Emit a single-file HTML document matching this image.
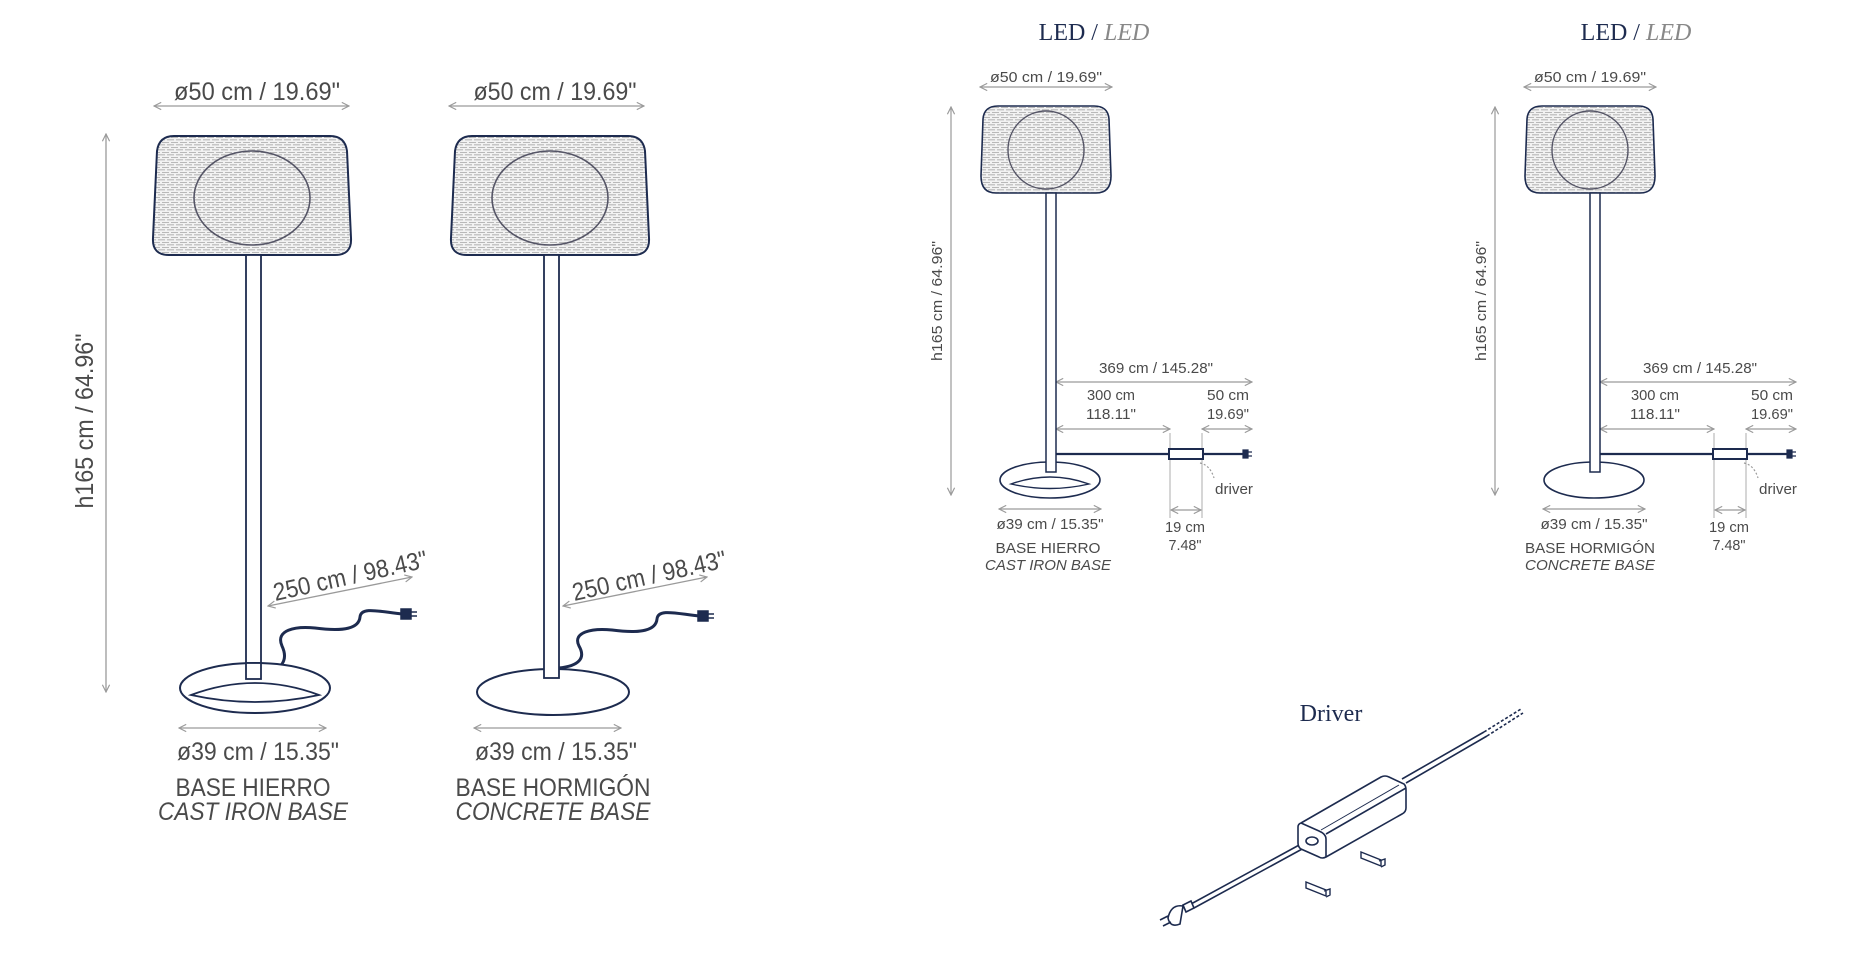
<!DOCTYPE html>
<html><head><meta charset="utf-8"><style>
html,body{margin:0;padding:0;background:#fff;}
svg{display:block;}
text{font-family:"Liberation Sans",sans-serif;fill:#4a4a4a;}
.s{font-family:"Liberation Serif",serif;fill:#1d2b4f;}
</style></head><body>
<svg width="1866" height="958" viewBox="0 0 1866 958" xmlns="http://www.w3.org/2000/svg">
<defs>
<pattern id="wv" width="9" height="5" patternUnits="userSpaceOnUse">
<rect width="9" height="5" fill="#f2f2f2"/>
<path d="M0,1.5 H7 M0,3.8 H3 M5,3.8 H9" stroke="#b8b8b8" stroke-width="1.1"/>
</pattern>
<marker id="a" viewBox="0 0 10 10" refX="9" refY="5" markerWidth="9" markerHeight="9" orient="auto-start-reverse" markerUnits="userSpaceOnUse"><path d="M1,1 L9,5 L1,9" fill="none" stroke="#9a9a9a" stroke-width="1.3"/></marker>
<g id="shadeL"><path d="M-78,0 L78,0 Q93,0 95,15 L99,102 Q100,119 83,119 L-83,119 Q-100,119 -99,102 L-95,15 Q-93,0 -78,0 Z" fill="url(#wv)" stroke="#1d2b4f" stroke-width="2"/>
<ellipse cx="0" cy="62" rx="58" ry="47" fill="none" stroke="#556" stroke-width="1.6"/></g>
<g id="shadeR"><path d="M-48,0 L48,0 Q62,0 63,13 L65,70 Q65,87 50,87 L-50,87 Q-65,87 -65,70 L-63,13 Q-62,0 -48,0 Z" fill="url(#wv)" stroke="#1d2b4f" stroke-width="1.6"/>
<ellipse cx="0" cy="44" rx="38" ry="39" fill="none" stroke="#556" stroke-width="1.4"/></g>
<g id="lampR">
<g stroke="#9a9a9a" stroke-width="1.2" fill="none">
<line x1="992" y1="87" x2="1124" y2="87" marker-start="url(#a)" marker-end="url(#a)"/>
<line x1="963" y1="107" x2="963" y2="495" marker-start="url(#a)" marker-end="url(#a)"/>
<line x1="1068" y1="382" x2="1264" y2="382" marker-start="url(#a)" marker-end="url(#a)"/>
<line x1="1068" y1="429" x2="1182" y2="429" marker-start="url(#a)" marker-end="url(#a)"/>
<line x1="1214" y1="429" x2="1264" y2="429" marker-start="url(#a)" marker-end="url(#a)"/>
<line x1="1183" y1="510" x2="1213" y2="510" marker-start="url(#a)" marker-end="url(#a)"/>
<line x1="1011" y1="509" x2="1113" y2="509" marker-start="url(#a)" marker-end="url(#a)"/>
<line x1="1182" y1="433" x2="1182" y2="518" stroke-width="0.8"/>
<line x1="1214" y1="433" x2="1214" y2="518" stroke-width="0.8"/>
<path d="M1212,463 Q1222,465 1226,478" stroke-dasharray="2,2"/>
</g>
<use href="#shadeR" x="1058" y="106"/>
<line x1="1068" y1="454" x2="1180" y2="454" stroke="#1d2b4f" stroke-width="2.2"/>
<line x1="1216" y1="454" x2="1256" y2="454" stroke="#1d2b4f" stroke-width="2.2"/>
<rect x="1181" y="449" width="34" height="10" fill="#fff" stroke="#1d2b4f" stroke-width="2"/>
<path d="M1255,450 h5 v8 h-5z M1260,452 h4 M1260,456 h4" fill="#1d2b4f" stroke="#1d2b4f" stroke-width="1.2"/>
<g font-size="15">
<text x="1058" y="82" text-anchor="middle" textLength="112" lengthAdjust="spacingAndGlyphs">ø50 cm / 19.69"</text>
<text x="1168" y="373" text-anchor="middle" textLength="114" lengthAdjust="spacingAndGlyphs">369 cm / 145.28"</text>
<text x="1123" y="400" text-anchor="middle" textLength="48" lengthAdjust="spacingAndGlyphs">300 cm</text>
<text x="1123" y="419" text-anchor="middle" textLength="50" lengthAdjust="spacingAndGlyphs">118.11"</text>
<text x="1240" y="400" text-anchor="middle" textLength="42" lengthAdjust="spacingAndGlyphs">50 cm</text>
<text x="1240" y="419" text-anchor="middle" textLength="42" lengthAdjust="spacingAndGlyphs">19.69"</text>
<text x="1246" y="494" text-anchor="middle" textLength="38" lengthAdjust="spacingAndGlyphs">driver</text>
<text x="1197" y="532" text-anchor="middle" textLength="40" lengthAdjust="spacingAndGlyphs">19 cm</text>
<text x="1197" y="550" text-anchor="middle" textLength="33" lengthAdjust="spacingAndGlyphs">7.48"</text>
<text x="1062" y="529" text-anchor="middle" textLength="107" lengthAdjust="spacingAndGlyphs">ø39 cm / 15.35"</text>
<text transform="translate(954,301) rotate(-90)" text-anchor="middle" textLength="120" lengthAdjust="spacingAndGlyphs">h165 cm / 64.96"</text>
</g>
</g>
</defs>

<g stroke="#9a9a9a" stroke-width="1.3" fill="none">
<line x1="154" y1="106" x2="349" y2="106" marker-start="url(#a)" marker-end="url(#a)"/>
<line x1="449" y1="106" x2="644" y2="106" marker-start="url(#a)" marker-end="url(#a)"/>
<line x1="106" y1="134" x2="106" y2="692" marker-start="url(#a)" marker-end="url(#a)"/>
<line x1="179" y1="728" x2="326" y2="728" marker-start="url(#a)" marker-end="url(#a)"/>
<line x1="474" y1="728" x2="621" y2="728" marker-start="url(#a)" marker-end="url(#a)"/>
<line x1="268" y1="606" x2="412" y2="577" marker-start="url(#a)" marker-end="url(#a)"/>
<line x1="563" y1="606" x2="707" y2="577" marker-start="url(#a)" marker-end="url(#a)"/>
</g>
<!-- lamp 1 -->
<use href="#shadeL" x="252" y="136"/>
<rect x="246" y="255" width="15" height="419" fill="#fff" stroke="#1d2b4f" stroke-width="1.8"/>
<path d="M261,674 C281,671 289,661 282,646 C275,630 295,626 315,628 C345,632 359,628 360,617 C361,606 381,612 403,614" fill="none" stroke="#1d2b4f" stroke-width="3"/>
<path d="M401,609 h10 v10 h-10z M411,612 h6 M411,616 h6" fill="#1d2b4f" stroke="#1d2b4f" stroke-width="1.5"/>
<ellipse cx="255" cy="688" rx="75" ry="25" fill="#fff" stroke="#1d2b4f" stroke-width="2"/>
<path d="M191,695 Q255,671 319,695 Q255,709 191,695 Z" fill="none" stroke="#1d2b4f" stroke-width="1.8"/>
<rect x="246" y="663" width="15" height="16" fill="#fff" stroke="#1d2b4f" stroke-width="1.8"/>
<!-- lamp 2 -->
<use href="#shadeL" x="550" y="136"/>
<ellipse cx="553" cy="692" rx="76" ry="23" fill="#fff" stroke="#1d2b4f" stroke-width="2"/>
<rect x="544" y="255" width="15" height="423" fill="#fff" stroke="#1d2b4f" stroke-width="1.8"/>
<path d="M559,668 C579,666 586,658 579,646 C572,632 592,628 612,630 C642,634 656,630 657,619 C658,608 678,614 700,616" fill="none" stroke="#1d2b4f" stroke-width="3"/>
<path d="M698,611 h10 v10 h-10z M708,614 h6 M708,618 h6" fill="#1d2b4f" stroke="#1d2b4f" stroke-width="1.5"/>

<g font-size="25">
<text x="257" y="100" text-anchor="middle" textLength="166" lengthAdjust="spacingAndGlyphs">ø50 cm / 19.69"</text>
<text x="555" y="100" text-anchor="middle" textLength="163" lengthAdjust="spacingAndGlyphs">ø50 cm / 19.69"</text>
<text x="258" y="770" text-anchor="middle" textLength="162" lengthAdjust="spacingAndGlyphs" dy="-10">ø39 cm / 15.35"</text>
<text x="556" y="760" text-anchor="middle" textLength="162" lengthAdjust="spacingAndGlyphs">ø39 cm / 15.35"</text>
<text x="253" y="796" text-anchor="middle" textLength="155" lengthAdjust="spacingAndGlyphs">BASE HIERRO</text>
<text x="253" y="820" text-anchor="middle" font-style="italic" textLength="190" lengthAdjust="spacingAndGlyphs">CAST IRON BASE</text>
<text x="553" y="796" text-anchor="middle" textLength="195" lengthAdjust="spacingAndGlyphs">BASE HORMIGÓN</text>
<text x="553" y="820" text-anchor="middle" font-style="italic" textLength="195" lengthAdjust="spacingAndGlyphs">CONCRETE BASE</text>
<text transform="translate(93,421) rotate(-90)" text-anchor="middle" textLength="175" lengthAdjust="spacingAndGlyphs">h165 cm / 64.96"</text>
<text transform="translate(352,584) rotate(-12.5)" text-anchor="middle" textLength="157" lengthAdjust="spacingAndGlyphs">250 cm / 98.43"</text>
<text transform="translate(651,584) rotate(-12.5)" text-anchor="middle" textLength="157" lengthAdjust="spacingAndGlyphs">250 cm / 98.43"</text>
</g>

<!-- right lamps -->
<text class="s" x="1094" y="40" font-size="24" text-anchor="middle">LED / <tspan font-style="italic" fill="#888">LED</tspan></text>
<text class="s" x="1636" y="40" font-size="24" text-anchor="middle">LED / <tspan font-style="italic" fill="#888">LED</tspan></text>

<g transform="translate(-12,0)">
<use href="#lampR"/>
<ellipse cx="1062" cy="480" rx="50" ry="18" fill="#fff" stroke="#1d2b4f" stroke-width="1.6"/>
<path d="M1023,484 Q1062,470 1101,484 Q1062,493 1023,484 Z" fill="none" stroke="#1d2b4f" stroke-width="1.4"/>
<rect x="1058" y="193" width="10" height="279" fill="#fff" stroke="#1d2b4f" stroke-width="1.5"/>
<g font-size="15">
<text x="1060" y="553" text-anchor="middle" textLength="105" lengthAdjust="spacingAndGlyphs">BASE HIERRO</text>
<text x="1060" y="570" text-anchor="middle" font-style="italic" textLength="126" lengthAdjust="spacingAndGlyphs">CAST IRON BASE</text>
</g>
</g>
<g transform="translate(532,0)">
<use href="#lampR"/>
<ellipse cx="1062" cy="480" rx="50" ry="18" fill="#fff" stroke="#1d2b4f" stroke-width="1.6"/>
<rect x="1058" y="193" width="10" height="279" fill="#fff" stroke="#1d2b4f" stroke-width="1.5"/>
<g font-size="15">
<text x="1058" y="553" text-anchor="middle" textLength="130" lengthAdjust="spacingAndGlyphs">BASE HORMIGÓN</text>
<text x="1058" y="570" text-anchor="middle" font-style="italic" textLength="130" lengthAdjust="spacingAndGlyphs">CONCRETE BASE</text>
</g>
</g>

<!-- Driver -->
<g transform="translate(-15,-9)">
<text class="s" x="1346" y="730" font-size="24" text-anchor="middle">Driver</text>
<g stroke="#1d2b4f" stroke-width="1.6" fill="none">
<path d="M1417,788 L1499,741 M1421,792 L1502,745"/>
<path d="M1499,741 L1536,718 M1502,745 L1538,722" stroke-dasharray="3,2"/>
<path d="M1316,853 L1206,913 M1319,857 L1209,917"/>
<path d="M1316,832 L1396,786 Q1400,784 1404,786 L1419,793 Q1421,795 1421,799 L1421,817 Q1421,821 1417,823 L1341,866 Q1337,868 1334,866 L1316,858 Q1313,856 1313,852 L1313,836 Q1313,833 1316,832 Z" fill="#fff"/>
<path d="M1316,832 L1334,840 Q1341,843 1341,848 L1341,866 M1341,843 L1421,797"/>
<path d="M1336,839 L1414,794" stroke-width="1"/>
<ellipse cx="1327" cy="850" rx="6" ry="4" fill="#fff"/>
<path d="M1206,910 l-8,4 l3,7 l8,-4z M1198,915 q-12,-2 -15,12 q2,10 12,6 z M1183,925 l-8,4 M1186,931 l-8,4" fill="#fff"/>
<path d="M1376,861 l20,8 l0,6 l-20,-8z M1394,870 l6,-2 l0,6 l-4,2 M1321,891 l20,8 l0,6 l-20,-8z M1339,900 l6,-2 l0,6 l-4,2" stroke-width="1.4"/>
</g>
</g>
</svg>
</body></html>
